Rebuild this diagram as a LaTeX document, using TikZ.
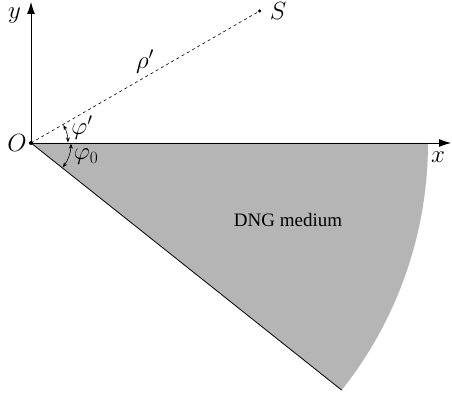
\documentclass[tikz,border=0pt]{standalone}
\usepackage{fontspec}
\setmainfont{Liberation Serif}
\usetikzlibrary{arrows.meta,calc}
\begin{document}
\begin{tikzpicture}[x=1pt,y=1pt,
  axis/.style={line width=0.8pt,-{Latex[length=12pt,width=8pt]}},
  anglearc/.style={line width=0.6pt,{Stealth[length=5pt,width=4pt]}-{Stealth[length=5pt,width=4pt]}},
  lab/.style={inner sep=0pt,font=\fontsize{23}{26}\selectfont},
  txt/.style={inner sep=0pt,font=\fontsize{19}{22}\selectfont},
  dot/.style={circle,fill=black,inner sep=0pt,minimum size=4pt}]
\useasboundingbox (0,0) rectangle (452,398);
\coordinate (O) at (31,255);
\coordinate (A) at (428,255);
\coordinate (B) at ($(O)+(-38.5:397)$);
\coordinate (S) at ($(O)+(30:264)$);
\coordinate (X) at (451,255);
\coordinate (Yt) at (31,396);
\fill[black!29] (O) -- (A) arc[start angle=0,end angle=-38.5,radius=397] -- cycle;
\draw[line width=0.8pt] (O) -- (B);
\draw[axis] (O) -- (X);
\draw[axis] (O) -- (Yt);
\draw[dashed,line width=0.6pt] (O) -- (S);
\node[dot] (Od) at (O) {};
\node[dot,minimum size=3.5pt] (Sd) at (S) {};
\draw[anglearc] ($(O)+(29:37)$) arc[start angle=29,end angle=1,radius=37];
\draw[anglearc] ($(O)+(-1:40)$) arc[start angle=-1,end angle=-37.5,radius=40];
\node[lab] (ly) at (14.5,382) {$y$};
\node[lab] (lx) at (438,241) {$x$};
\node[lab] (lO) at (17,255) {$O$};
\node[lab] (lS) at (278,387) {$S$};
\node[lab] (lrho) at (145,336) {$\rho'$};
\node[lab] (lphi) at (82,270) {$\varphi'$};
\node[lab] (lphi0) at (86,241) {$\varphi_0$};
\node[txt] (dng) at (288,178) {DNG medium};
\end{tikzpicture}
\end{document}
